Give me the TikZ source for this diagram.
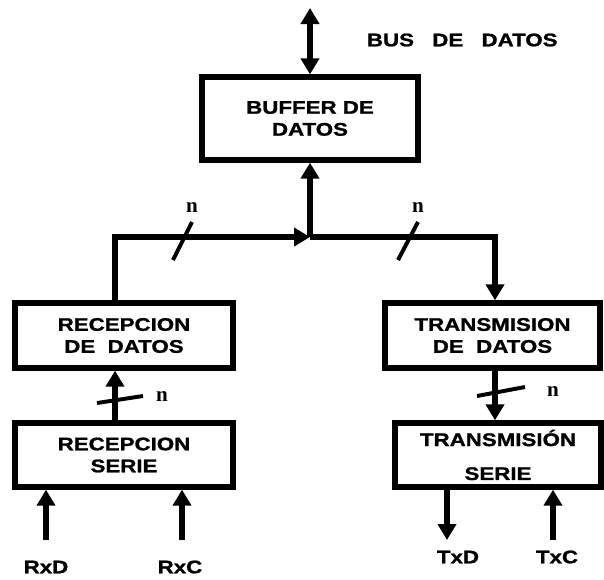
\documentclass[tikz,border=0pt]{standalone}
\usepackage{fontspec}
\newfontfamily\boxfont{Liberation Sans}[FakeStretch=1.22, FakeBold=1.2]
\newfontfamily\nfont{Liberation Serif}
\usetikzlibrary{arrows.meta,positioning}

\begin{document}
\begin{tikzpicture}[
  x=0.25mm, y=-0.25mm,
  >={Triangle[length=4mm,width=4.5mm]},
  font=\boxfont\bfseries\fontsize{13}{15.6}\selectfont,
  box/.style={rectangle, draw=black, line width=3.8pt, align=center, inner sep=0pt},
  arr/.style={->, line width=3.6pt},
  bar/.style={line width=2.8pt},
  nlab/.style={font=\nfont\bfseries\fontsize{15}{18}\selectfont}
]
\useasboundingbox (0,0) rectangle (604,579);
% --- bloques ---
\node[box, minimum width=54mm, minimum height=20.75mm] (buffer) at (310,118.5) {BUFFER DE\\DATOS};
\node[box, minimum width=54.5mm, minimum height=16.25mm] (recdatos) at (124,335.5) {RECEPCION\\DE~~DATOS};
\node[box, minimum width=54.5mm, minimum height=16mm] (recserie) at (124,455) {RECEPCION\\SERIE};
\node[box, minimum width=53.75mm, minimum height=16.25mm] (trdatos) at (492.5,335.5) {TRANSMISION\\DE~~DATOS};
\node[box, minimum width=51.5mm, minimum height=16mm] (trserie) at (498,455) {TRANSMISIÓN\\[3mm]SERIE};
% --- bus ---
\coordinate (bus) at (310,8);
\node[anchor=west] (buslab) at (362,40) {BUS\hspace{1em}DE\hspace{1em}DATOS};
\draw[arr, <->] (bus) -- (buffer);
% --- reparto ---
\coordinate (jn) at (310,237);
\coordinate (jl) at (115,237);
\coordinate (jr) at (495,237);
\draw[arr] (jn) -- (buffer);
\draw[arr] (jl |- recdatos.north) -- (jl) -- (jn);
\draw[arr] (jn) -- (jr) -- (jr |- trdatos.north);
\draw[arr] (jl |- recserie.north) -- (jl |- recdatos.south);
\draw[arr] (jr |- trdatos.south) -- (jr |- trserie.north);
% --- marcas de n lineas ---
\draw[bar] (173,260) -- (192,222);
\draw[bar] (398,260) -- (418,222);
\draw[bar] (97,403) -- (143,396);
\draw[bar] (477,396) -- (525,387);
\node[nlab] (n1) at (192,208) {n};
\node[nlab] (n2) at (418,208) {n};
\node[nlab] (n3) at (162,397) {n};
\node[nlab] (n4) at (553,392) {n};
% --- lineas serie ---
\coordinate (rxd) at (46,540);
\coordinate (rxc) at (182,540);
\coordinate (txd) at (447,540);
\coordinate (txc) at (553,540);
\draw[arr] (rxd) -- (rxd |- recserie.south);
\draw[arr] (rxc) -- (rxc |- recserie.south);
\draw[arr] (txd |- trserie.south) -- (txd);
\draw[arr] (txc) -- (txc |- trserie.south);
\node (rxdlab) at (46,567) {RxD};
\node (rxclab) at (180,567) {RxC};
\node (txdlab) at (458,557) {TxD};
\node (txclab) at (557,557) {TxC};
\end{tikzpicture}
\end{document}
